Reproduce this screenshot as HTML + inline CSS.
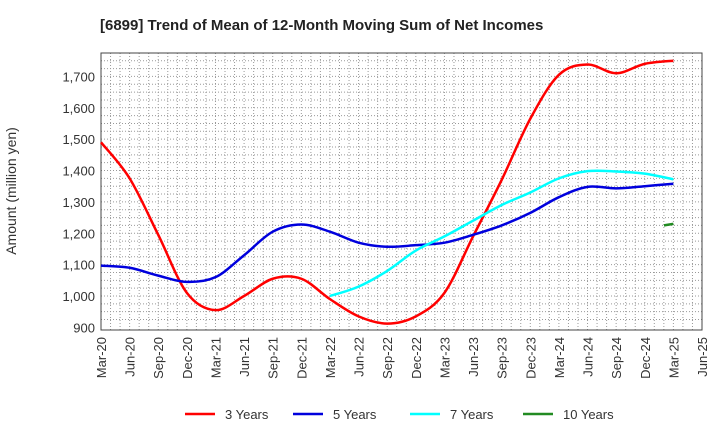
<!DOCTYPE html>
<html><head><meta charset="utf-8"><style>
body{margin:0;background:#fff;font-family:"Liberation Sans",sans-serif}
svg text{font-family:"Liberation Sans",sans-serif}
</style></head><body>
<svg width="720" height="440">
<text x="100" y="30" font-size="15" font-weight="bold" fill="#222">[6899]  Trend of Mean of 12-Month Moving Sum of Net Incomes</text>
<g id="grid"></g>
<rect x="101" y="53" width="601" height="277" fill="none" stroke="#444" stroke-width="1"/>
<g id="yt"></g><g id="xt"></g><g id="series"></g>
<text transform="translate(16,191) rotate(-90)" text-anchor="middle" font-size="14" fill="#333">Amount (million yen)</text>
<g id="legend"></g>
</svg>
<script>
const xLabels=["Mar-20","Jun-20","Sep-20","Dec-20","Mar-21","Jun-21","Sep-21","Dec-21","Mar-22","Jun-22","Sep-22","Dec-22","Mar-23","Jun-23","Sep-23","Dec-23","Mar-24","Jun-24","Sep-24","Dec-24","Mar-25","Jun-25"];
const yTicks=[900,1000,1100,1200,1300,1400,1500,1600,1700];
const s3=[1490,1375,1195,1010,955,1000,1055,1055,990,935,912,935,1010,1190,1370,1565,1705,1738,1710,1740,1750];
const s5=[1097,1090,1065,1045,1060,1130,1205,1228,1205,1170,1157,1162,1170,1195,1225,1265,1315,1348,1343,1350,1358];
const s7=[null,null,null,null,null,null,null,null,1000,1030,1080,1145,1190,1240,1290,1330,1375,1398,1397,1390,1372];
const s10x=[19.67,20];
const s10=[1225,1230];
const NS="http://www.w3.org/2000/svg";
const X=i=>101+i*601/21, Y=v=>296-(v-1000)*0.3137;
function mk(p,t,a){const e=document.createElementNS(NS,t);for(const k in a)e.setAttribute(k,a[k]);document.getElementById(p).appendChild(e);return e;}
for(let m=1;m<63;m++){const x=101+m*601/63;
const g=mk('grid','line',{x1:x,x2:x,y1:53,y2:330,stroke:'#999','stroke-dasharray':'1,2','stroke-width':1});

}
for(let v=925;v<1775;v+=25){const y=Y(v);
const g=mk('grid','line',{x1:101,x2:702,y1:y,y2:y,stroke:'#999','stroke-dasharray':'1,2','stroke-width':1});

}
yTicks.forEach(v=>{const t=mk('yt','text',{x:95,y:Y(v)+5,'text-anchor':'end','font-size':13,fill:'#333'});t.textContent=v.toLocaleString('en-US');

});
xLabels.forEach((l,i)=>{const t=mk('xt','text',{transform:`translate(${X(i)+5},337) rotate(-90)`,'text-anchor':'end','font-size':13,fill:'#333'});t.textContent=l;

});
function path(pts){let d=`M${pts[0][0]},${pts[0][1]}`;for(let i=0;i<pts.length-1;i++){const p0=pts[i-1]||pts[i],p1=pts[i],p2=pts[i+1],p3=pts[i+2]||p2;
d+=` C${p1[0]+(p2[0]-p0[0])/6},${p1[1]+(p2[1]-p0[1])/6} ${p2[0]-(p3[0]-p1[0])/6},${p2[1]-(p3[1]-p1[1])/6} ${p2[0]},${p2[1]}`;}return d;}
function series(arr,xs,col,name){const pts=[];arr.forEach((v,i)=>{if(v!=null)pts.push([X(xs?xs[i]:i),Y(v)]);});
const p=mk('series','path',{d:path(pts),fill:'none',stroke:col,'stroke-width':2.5});

}
series(s3,null,'#ff0000','series-3-years');
series(s5,null,'#0000dd','series-5-years');
series(s7,null,'#00ffff','series-7-years');
series(s10,s10x,'#228b22','series-10-years');
[["3 Years","#ff0000",185],["5 Years","#0000dd",293],["7 Years","#00ffff",410],["10 Years","#228b22",523]].forEach(([n,c,x])=>{
const l=mk('legend','line',{x1:x,x2:x+30,y1:414,y2:414,stroke:c,'stroke-width':2.5});


const t=mk('legend','text',{x:x+40,y:419,'font-size':13,fill:'#333'});t.textContent=n;

});
</script>
</body></html>
